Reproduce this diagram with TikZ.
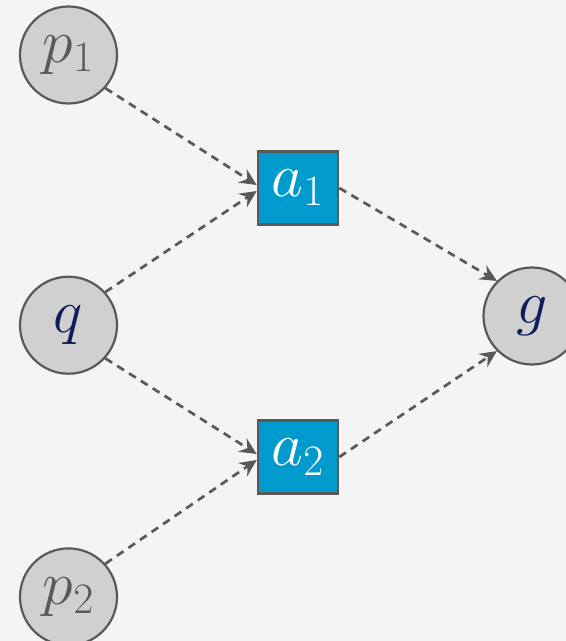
\documentclass[tikz,border=0pt]{standalone}
\usepackage{fix-cm}
\usetikzlibrary{positioning,arrows.meta}

\definecolor{bggray}{HTML}{F4F4F4}
\definecolor{nodegray}{HTML}{D0D0D0}
\definecolor{edgegray}{HTML}{595959}
\definecolor{actblue}{HTML}{009ACD}
\definecolor{navytext}{HTML}{0E1E5B}

\begin{document}
\begin{tikzpicture}[
    x=0.5pt, y=-0.5pt,
    state/.style={circle, draw=edgegray, line width=1.1pt, fill=nodegray, minimum size=48.5pt, inner sep=0pt, font=\fontsize{31}{37}\selectfont},
    act/.style={draw=edgegray, line width=1.3pt, fill=actblue, minimum width=40pt, minimum height=36.5pt, inner sep=0pt, text=white, font=\fontsize{31}{37}\selectfont},
    arr/.style={-{Stealth[length=8.5pt, width=8pt, inset=3pt]}, dash pattern=on 4pt off 3pt, line width=1.35pt, draw=edgegray},
    node distance=85.5pt
]
\fill[bggray] (0,0) rectangle (566,641);
\useasboundingbox (0,0) rectangle (566,641);

\node[state, text=edgegray] (p1) at (68.5,55) {$p_1$};
\node[state, text=navytext, below=of p1] (q) {$q$};
\node[state, text=edgegray, below=86.25pt of q] (p2) {$p_2$};
\node[act] (a1) at (298,188) {$a_1$};
\node[act] (a2) at (298,457) {$a_2$};
\node[state, text=navytext] (g) at (532,316) {$g$};

\draw[arr] (p1.-42) -- ([yshift=1.5pt]a1.west);
\draw[arr] (q.42)   -- ([yshift=-1.5pt]a1.west);
\draw[arr] (q.-42)  -- ([yshift=1.5pt]a2.west);
\draw[arr] (p2.42)  -- ([yshift=-1.5pt]a2.west);
\draw[arr] (a1.east) -- (g.135);
\draw[arr] (a2.east) -- (g.-135);
\end{tikzpicture}
\end{document}
